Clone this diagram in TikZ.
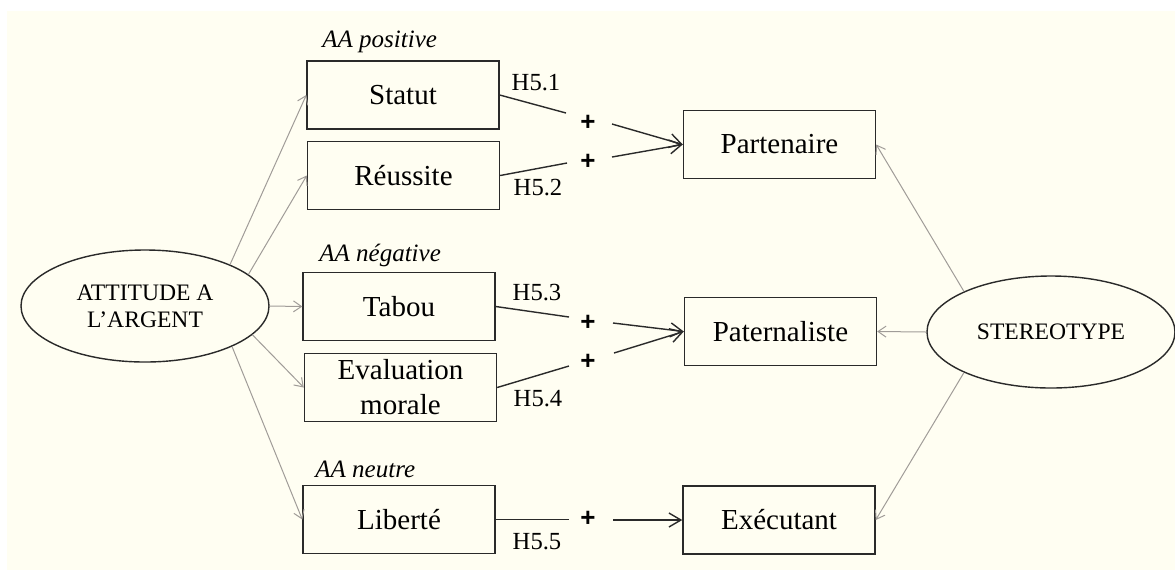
\documentclass[tikz,border=0pt]{standalone}
\usepackage{fontspec}
\setmainfont{Liberation Serif}
\newfontfamily\plusfont{Liberation Sans}
\usetikzlibrary{shapes.geometric,arrows.meta}
\definecolor{cream}{HTML}{FFFEF2}
\definecolor{ink}{HTML}{2A2A2A}
\definecolor{greyline}{HTML}{A09C98}
\begin{document}
\begin{tikzpicture}[x=0.5pt,y=-0.5pt,
 box/.style={draw=ink,line width=0.7pt,rectangle,minimum width=96pt,minimum height=34pt,inner sep=0pt,font=\fontsize{14.5}{17.5}\selectfont,align=center},
 latent/.style={draw=ink,line width=0.7pt,ellipse,minimum width=124pt,minimum height=56pt,inner sep=0pt,font=\fontsize{11.8}{13.5}\selectfont,align=center},
 hyp/.style={draw=ink,line width=0.7pt},
 hyparrow/.style={hyp,-{Straight Barb[length=6pt,width=7pt]}},
 loading/.style={draw=greyline,line width=0.5pt,-{Straight Barb[length=4pt,width=5.5pt]}},
 hlabel/.style={font=\fontsize{12.3}{13}\selectfont,inner sep=0pt},
 grouplabel/.style={font=\fontsize{12.5}{14}\selectfont\itshape,inner sep=0pt,anchor=west},
 plussign/.style={font=\fontsize{13}{14}\selectfont\plusfont\bfseries,inner sep=0pt}
]
\useasboundingbox (0,0) rectangle (1175,570);
\fill[white] (0,0) rectangle (1175,570);
\fill[cream] (7,11) rectangle (1175,570);

% latent variables
\node[latent] (att) at (145,306) {ATTITUDE A\\L’ARGENT};
\node[latent] (ster) at (1051,332) {STEREOTYPE};

% boxes
\node[box] (statut) at (403,95) {Statut};
\node[box] (reuss) at (403.5,175.5) {Réussite};
\node[box] (tabou) at (399,306.5) {Tabou};
\node[box] (eval) at (400.5,387.5) {Evaluation\\morale};
\node[box] (lib) at (399,519.5) {Liberté};
\node[box] (part) at (779.5,144.5) {Partenaire};
\node[box] (pater) at (780.5,331.5) {Paternaliste};
\node[box] (exec) at (779,520) {Exécutant};

% group labels
\node[grouplabel] (gpos) at (322,42) {AA positive};
\node[grouplabel] (gneg) at (319,255) {AA négative};
\node[grouplabel] (gneu) at (315,469) {AA neutre};

% hypothesis labels
\node[hlabel] (h51) at (536,83) {H5.1};
\node[hlabel] (h52) at (538,188) {H5.2};
\node[hlabel] (h53) at (537,293) {H5.3};
\node[hlabel] (h54) at (538,399) {H5.4};
\node[hlabel] (h55) at (537,542) {H5.5};

% plus signs
\node[plussign] (p1) at (588,123) {+};
\node[plussign] (p2) at (588,162) {+};
\node[plussign] (p3) at (588,323) {+};
\node[plussign] (p4) at (588,362) {+};
\node[plussign] (p5) at (588,519) {+};

% line break points
\coordinate (h1a) at (566,113);
\coordinate (h1b) at (612,124);
\coordinate (h2a) at (567,163);
\coordinate (h2b) at (612,157);
\coordinate (h3a) at (569,317);
\coordinate (h3b) at (613,323);
\coordinate (h4a) at (569,366);
\coordinate (h4b) at (614,353);
\coordinate (h5a) at (569,519.5);
\coordinate (h5b) at (613,520);

% hypotheses
\draw[hyp] (statut.east) -- (h1a);
\draw[hyparrow] (h1b) -- (part.west);
\draw[hyp] (reuss.east) -- (h2a);
\draw[hyparrow] (h2b) -- (part.west);
\draw[hyp] (tabou.east) -- (h3a);
\draw[hyparrow] (h3b) -- (pater.west);
\draw[hyp] (eval.east) -- (h4a);
\draw[hyparrow] (h4b) -- (pater.west);
\draw[hyp] (lib.east) -- (h5a);
\draw[hyparrow] (h5b) -- (exec.west);

% loadings
\draw[loading] (att.26) -- (statut.west);
\draw[loading] (att.17) -- (reuss.west);
\draw[loading] (att.east) -- (tabou.west);
\draw[loading] (att.-15) -- (eval.west);
\draw[loading] (att.-25) -- (lib.west);
\draw[loading] (ster.155) -- (part.east);
\draw[loading] (ster.west) -- (pater.east);
\draw[loading] (ster.205) -- (exec.east);
\end{tikzpicture}
\end{document}
